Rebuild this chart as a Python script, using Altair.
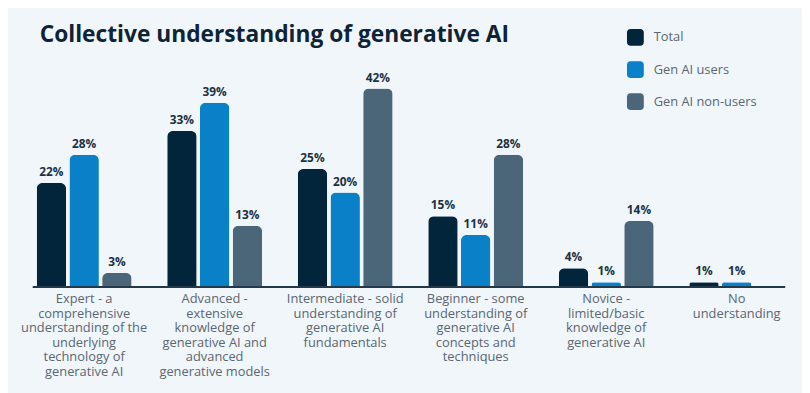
import altair as alt
import pandas as pd

categories = [
    "Expert - a|comprehensive|understanding of the|underlying|technology of|generative AI",
    "Advanced -|extensive|knowledge of|generative AI and|advanced|generative models",
    "Intermediate - solid|understanding of|generative AI|fundamentals",
    "Beginner - some|understanding of|generative AI|concepts and|techniques",
    "Novice -|limited/basic|knowledge of|generative AI",
    "No|understanding",
]
series = ["Total", "Gen AI users", "Gen AI non-users"]
total = [22, 33, 25, 15, 4, 1]
users = [28, 39, 20, 11, 1, 1]
non_users = [3, 13, 42, 28, 14, None]
colors = ["#03253b", "#0a80c8", "#4b6579"]

rows = []
for i, c in enumerate(categories):
    for s, vals in zip(series, [total, users, non_users]):
        if vals[i] is not None:
            rows.append({"category": c, "series": s, "value": vals[i]})
df = pd.DataFrame(rows)

font = "Open Sans"
sym = ("M-0.55,-1 L0.55,-1 Q1,-1 1,-0.55 L1,0.55 Q1,1 0.55,1 L-0.55,1 "
       "Q-1,1 -1,0.55 L-1,-0.55 Q-1,-1 -0.55,-1 Z")

x = alt.X("category:N", sort=categories, title=None,
          scale=alt.Scale(paddingInner=0.2727, paddingOuter=0.1364),
          axis=alt.Axis(labelExpr="split(datum.label, '|')", labelAngle=0,
                        domain=False, ticks=False, labelPadding=6,
                        labelFont=font, labelFontSize=13, labelColor="#5b6772",
                        labelLineHeight=14.6, labelBaseline="top", labelLimit=200))
xo = alt.XOffset("series:N", sort=series,
                 scale=alt.Scale(paddingInner=0.1, paddingOuter=0))
y = alt.Y("value:Q", scale=alt.Scale(domain=[0, 50], nice=False), axis=None)

base = alt.Chart(df)
bars = base.mark_bar(cornerRadiusTopLeft=6, cornerRadiusTopRight=6).encode(
    x=x, xOffset=xo, y=y,
    color=alt.Color("series:N", sort=series, title=None,
                    scale=alt.Scale(domain=series, range=colors),
                    legend=alt.Legend(orient="none", legendX=615, legendY=-22,
                                      symbolType=sym, symbolSize=289,
                                      symbolStrokeWidth=0, symbolOpacity=1,
                                      labelFont=font, labelFontSize=13,
                                      labelColor="#5b6772", labelOffset=10,
                                      rowPadding=15.5)),
)
labels = base.mark_text(baseline="bottom", dy=-4, font=font, fontSize=12,
                        fontWeight="bold", color="#1c3244").encode(
    x=x, xOffset=xo, y=y,
    text=alt.Text("label:N"),
).transform_calculate(label="datum.value + '%'")

axis_line = alt.Chart(pd.DataFrame({"v": [0]})).mark_rule(
    color="#23394a", strokeWidth=2).encode(
    y=alt.Y("v:Q", scale=alt.Scale(domain=[0, 50], nice=False), axis=None),
    x=alt.value(14), x2=alt.value(775))

chart = alt.layer(bars, labels, axis_line).properties(
    width=792, height=239,
    padding={"left": 11, "top": 14, "right": 0, "bottom": 24},
    background="#f0f6fa",
    title=alt.TitleParams("Collective understanding of generative AI",
                          anchor="start", frame="group", dx=21, offset=-18,
                          font=font, fontSize=23, fontWeight="bold",
                          color="#0e2336"),
).configure_view(stroke=None)

chart.save("out.html", embed_options={"renderer": "svg", "actions": False})
